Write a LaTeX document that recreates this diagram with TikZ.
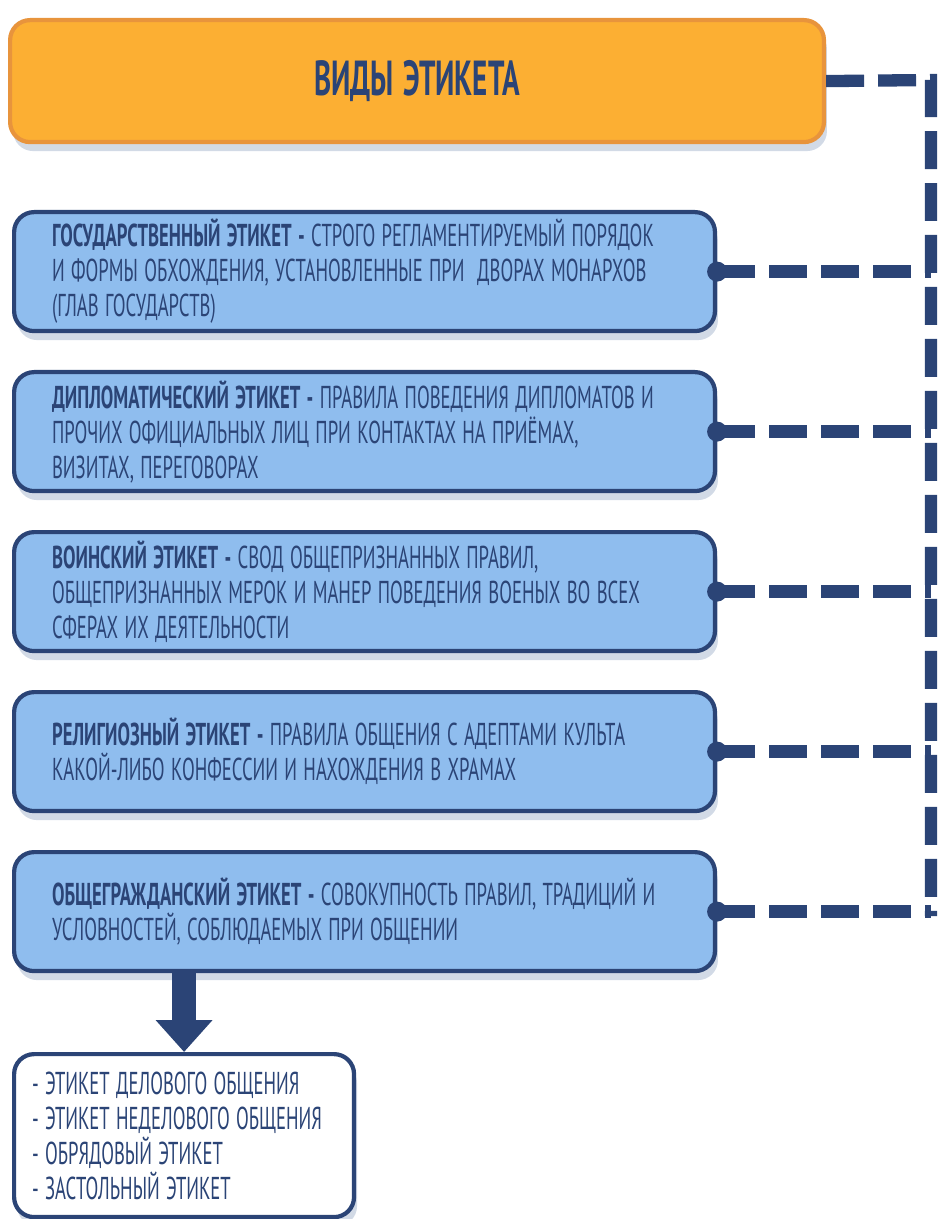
\documentclass[tikz,border=0pt]{standalone}
\usepackage{fontspec}
\setmainfont[FakeStretch=0.59]{PT Sans}
\usetikzlibrary{arrows.meta,shadows}
\definecolor{navy}{HTML}{2B4476}
\definecolor{skyfill}{HTML}{8FBDEE}
\definecolor{orangefill}{HTML}{FCAF33}
\definecolor{orangeline}{HTML}{E8943C}
\definecolor{shade}{HTML}{B4C1D6}
\newcommand{\boxfont}{\fontsize{18}{19.9}\selectfont}
\newcommand{\tightspaces}{\spaceskip 3.6pt plus 1pt minus 0.5pt\xspaceskip 3.6pt plus 1pt\relax}
\newcommand{\titlefont}{\bfseries\fontsize{28}{30}\selectfont\spaceskip 5.5pt\relax}

\begin{document}
\begin{tikzpicture}[x=0.02cm, y=-0.02cm,
  boxshadow/.style={drop shadow={shadow xshift=0.06cm, shadow yshift=-0.18cm, fill=shade, opacity=0.6}},
  typebox/.style={draw=navy, line width=2.4pt, fill=skyfill, rounded corners=0.4cm,
    anchor=north west, minimum width=14.02cm, minimum height=2.38cm,
    text width=12.5cm, inner xsep=0.76cm, align=left, text=navy,
    font=\boxfont, execute at begin node=\tightspaces, boxshadow},
  listbox/.style={typebox, fill=white, minimum width=6.8cm, minimum height=3.26cm,
    text width=6.08cm, inner xsep=0.36cm},
  titlebox/.style={draw=orangeline, line width=2.4pt, fill=orangefill, rounded corners=0.4cm,
    anchor=north west, minimum width=16.28cm, minimum height=2.44cm, text=navy,
    font=\titlefont, boxshadow},
  dashline/.style={draw=navy, line width=7pt, dash pattern=on 0.76cm off 0.28cm},
  bigarrow/.style={navy, line width=0.48cm, -{Triangle[width=1.1cm, length=0.64cm]}}
]
  \useasboundingbox (0,0) rectangle (937,1219);

  % title and the five kinds
  \node[titlebox] (title) at (8,18) {ВИДЫ ЭТИКЕТА};
  \node[typebox] (gos) at (12,210) {\textbf{ГОСУДАРСТВЕННЫЙ ЭТИКЕТ -} СТРОГО РЕГЛАМЕНТИРУЕМЫЙ ПОРЯДОК\\
    И ФОРМЫ ОБХОЖДЕНИЯ, УСТАНОВЛЕННЫЕ ПРИ~ ДВОРАХ МОНАРХОВ\\
    (ГЛАВ ГОСУДАРСТВ)};
  \node[typebox] (dip) at (12,370) {\textbf{ДИПЛОМАТИЧЕСКИЙ ЭТИКЕТ -} ПРАВИЛА ПОВЕДЕНИЯ ДИПЛОМАТОВ И\\
    ПРОЧИХ ОФИЦИАЛЬНЫХ ЛИЦ ПРИ КОНТАКТАХ НА ПРИЁМАХ,\\
    ВИЗИТАХ, ПЕРЕГОВОРАХ};
  \node[typebox] (voin) at (12,530) {\textbf{ВОИНСКИЙ ЭТИКЕТ -} СВОД ОБЩЕПРИЗНАННЫХ ПРАВИЛ,\\
    ОБЩЕПРИЗНАННЫХ МЕРОК И МАНЕР ПОВЕДЕНИЯ ВОЕНЫХ ВО ВСЕХ\\
    СФЕРАХ ИХ ДЕЯТЕЛЬНОСТИ};
  \node[typebox] (rel) at (12,690) {\textbf{РЕЛИГИОЗНЫЙ ЭТИКЕТ -} ПРАВИЛА ОБЩЕНИЯ С АДЕПТАМИ КУЛЬТА\\
    КАКОЙ-ЛИБО КОНФЕССИИ И НАХОЖДЕНИЯ В ХРАМАХ};
  \node[typebox] (obsh) at (12,850) {\textbf{ОБЩЕГРАЖДАНСКИЙ ЭТИКЕТ -} СОВОКУПНОСТЬ ПРАВИЛ, ТРАДИЦИЙ И\\
    УСЛОВНОСТЕЙ, СОБЛЮДАЕМЫХ ПРИ ОБЩЕНИИ};
  \node[listbox] (vidy) at (12,1052) {- ЭТИКЕТ ДЕЛОВОГО ОБЩЕНИЯ\\
    - ЭТИКЕТ НЕДЕЛОВОГО ОБЩЕНИЯ\\
    - ОБРЯДОВЫЙ ЭТИКЕТ\\
    - ЗАСТОЛЬНЫЙ ЭТИКЕТ};

  % dashed trunk
  \coordinate (trunktop) at (931,80);
  \coordinate (trunkend) at (931,916);
  \draw[dashline] (title.east) -- (trunktop) -- (trunkend);
  \foreach \kind in {gos,dip,voin,rel,obsh}
    \draw[dashline] (\kind.east) -- (\kind.east -| trunktop);
  \foreach \kind in {gos,dip,voin,rel,obsh}
    \fill[navy] (\kind.east) circle (0.2cm);

  % arrow down to the list
  \draw[bigarrow] (obsh.south -| vidy.north) -- (vidy.north);
\end{tikzpicture}
\end{document}
